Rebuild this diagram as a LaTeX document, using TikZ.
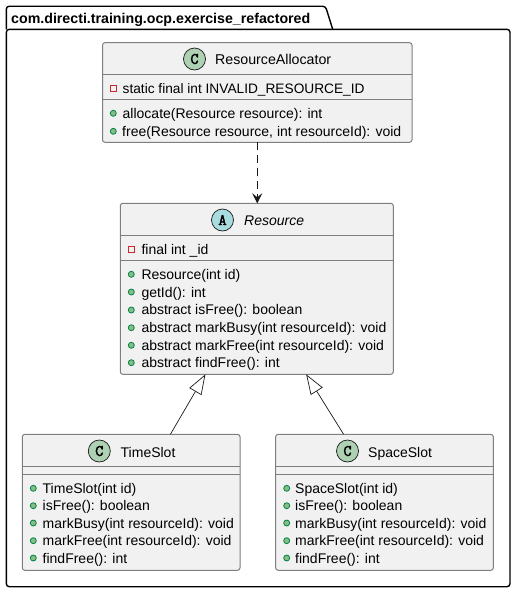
\documentclass[tikz,border=0pt]{standalone}
\usepackage{fontspec}
\setmainfont{Liberation Sans}
\newfontfamily\badgefont[FakeBold=2.5]{Latin Modern Mono}
\usepackage{xcolor}
\definecolor{umlink}{HTML}{181818}
\definecolor{umledge}{HTML}{7E7E7E}
\definecolor{umlfill}{HTML}{F1F1F1}
\definecolor{umlclass}{HTML}{ADD1B2}
\definecolor{umlabstract}{HTML}{A9DCDF}
\definecolor{umlred}{HTML}{C82930}
\definecolor{umlgreen}{HTML}{038048}
\definecolor{umlgreenfill}{HTML}{84BE84}
\usetikzlibrary{arrows.meta}
\tikzset{
  classbox/.style={draw=umledge, fill=umlfill, line width=1pt, rounded corners=2.5pt, inner sep=0pt, outer sep=0pt},
  classrule/.style={draw=umledge, line width=1pt},
  title/.style={font=\fontsize{14}{16}\selectfont, text=black, anchor=base west, inner sep=0pt},
  member/.style={font=\fontsize{14}{16}\selectfont, text=black, anchor=base west, inner sep=0pt},
  badge/.style={circle, draw=umlink, line width=0.7pt, minimum size=22pt, inner sep=0pt, text=black, font=\badgefont\fontsize{16}{16}\selectfont},
  privmark/.style={draw=umlred, line width=0.8pt, minimum size=6pt, inner sep=0pt},
  pubmark/.style={circle, draw=umlgreen, fill=umlgreenfill, line width=0.8pt, minimum size=6pt, inner sep=0pt},
  depends/.style={draw=umlink, line width=0.8pt, dash pattern=on 8pt off 5pt, -{Stealth[length=10pt, width=10pt, inset=4pt]}},
  extends/.style={draw=umlink, line width=0.7pt, -{Triangle[open, fill=none, length=20pt, width=14pt]}}
}

\begin{document}
\begin{tikzpicture}[x=1pt, y=-1pt]
  \useasboundingbox (0,0) rectangle (515,592);

  % Package frame
  \draw[black, line width=1.4pt, rounded corners=3pt] (6.3,29.3) -- (6.3,6.2) -- (325.5,6.2) -- (332.7,29.3);
  \draw[black, line width=1.4pt, rounded corners=3pt] (6.3,29.3) -- (6.3,586.7) -- (510,586.7) -- (510,29.3) -- cycle;
  \node[title, font=\fontsize{14.2}{16}\selectfont\bfseries] (pkgtitle) at (11,23) {com.directi.training.ocp.exercise\_refactored};

  % --- ResourceAllocator ---
  \node[classbox, minimum width=309.5pt, minimum height=99.6pt] (allocator) at (257.25,92.5) {};
  \draw[classrule] (102.5,74) -- (412,74);
  \draw[classrule] (102.5,99.3) -- (412,99.3);
  \node[badge, fill=umlclass] (allocatorbadge) at (194.5,59) {C};
  \node[title, font=\fontsize{14.2}{16}\selectfont] (allocatortitle) at (215,64) {ResourceAllocator};
  \node[privmark] (allocatorm1) at (113.3,88.3) {};
  \node[member, font=\fontsize{13.7}{16}\selectfont] (allocatorf1) at (122.5,93) {static final int INVALID\_RESOURCE\_ID};
  \node[pubmark] (allocatorm2) at (113.3,113.3) {};
  \node[member] (allocatorf2) at (122.5,118) {allocate(Resource resource): int};
  \node[pubmark] (allocatorm3) at (113.3,131.3) {};
  \node[member] (allocatorf3) at (122,136) {free(Resource resource, int resourceId): void};

  % --- Resource ---
  \node[classbox, minimum width=273pt, minimum height=171pt] (resource) at (256.8,288.8) {};
  \draw[classrule] (120.3,235.7) -- (393.3,235.7);
  \draw[classrule] (120.3,260.7) -- (393.3,260.7);
  \node[badge, fill=umlabstract] (resourcebadge) at (222.5,220) {A};
  \node[title, font=\fontsize{14}{16}\selectfont\itshape] (resourcetitle) at (244,225) {Resource};
  \node[privmark] (resourcem1) at (131.3,249.3) {};
  \node[member] (resourcef1) at (141.3,254) {final int \_id};
  \node[pubmark] (resourcem2) at (131.3,274.3) {};
  \node[member] (resourcef2) at (141.3,279) {Resource(int id)};
  \node[pubmark] (resourcem3) at (131.3,292) {};
  \node[member] (resourcef3) at (141.3,297) {getId(): int};
  \node[pubmark] (resourcem4) at (131.3,310) {};
  \node[member] (resourcef4) at (141.3,314) {abstract isFree(): boolean};
  \node[pubmark] (resourcem5) at (131.3,327.7) {};
  \node[member] (resourcef5) at (141.3,332) {abstract markBusy(int resourceId): void};
  \node[pubmark] (resourcem6) at (131.3,345.3) {};
  \node[member] (resourcef6) at (141.3,350) {abstract markFree(int resourceId): void};
  \node[pubmark] (resourcem7) at (131.3,362.7) {};
  \node[member] (resourcef7) at (141.3,367) {abstract findFree(): int};

  % --- TimeSlot ---
  \node[classbox, minimum width=217.7pt, minimum height=136pt] (timeslot) at (131.15,502.3) {};
  \draw[classrule] (22.3,466.7) -- (240,466.7);
  \draw[classrule] (22.3,474.3) -- (240,474.3);
  \node[badge, fill=umlclass] (timeslotbadge) at (99.3,451) {C};
  \node[title] (timeslottitle) at (120.5,457) {TimeSlot};
  \node[pubmark] (timeslotm1) at (33.3,488.3) {};
  \node[member] (timeslotf1) at (42.5,493) {TimeSlot(int id)};
  \node[pubmark] (timeslotm2) at (33.3,505.7) {};
  \node[member] (timeslotf2) at (42.5,510) {isFree(): boolean};
  \node[pubmark] (timeslotm3) at (33.3,523) {};
  \node[member] (timeslotf3) at (42.5,528) {markBusy(int resourceId): void};
  \node[pubmark] (timeslotm4) at (33.3,540.7) {};
  \node[member] (timeslotf4) at (42.5,545) {markFree(int resourceId): void};
  \node[pubmark] (timeslotm5) at (33.3,558) {};
  \node[member] (timeslotf5) at (42.5,563) {findFree(): int};

  % --- SpaceSlot ---
  \node[classbox, minimum width=217.6pt, minimum height=136pt] (spaceslot) at (384.5,502.3) {};
  \draw[classrule] (275.7,466.7) -- (493.3,466.7);
  \draw[classrule] (275.7,474.3) -- (493.3,474.3);
  \node[badge, fill=umlclass] (spaceslotbadge) at (347.5,451) {C};
  \node[title] (spaceslottitle) at (368,457) {SpaceSlot};
  \node[pubmark] (spaceslotm1) at (286.7,488.3) {};
  \node[member] (spaceslotf1) at (295,493) {SpaceSlot(int id)};
  \node[pubmark] (spaceslotm2) at (286.7,505.7) {};
  \node[member] (spaceslotf2) at (295,510) {isFree(): boolean};
  \node[pubmark] (spaceslotm3) at (286.7,523) {};
  \node[member] (spaceslotf3) at (295,528) {markBusy(int resourceId): void};
  \node[pubmark] (spaceslotm4) at (286.7,540.7) {};
  \node[member] (spaceslotf4) at (295,545) {markFree(int resourceId): void};
  \node[pubmark] (spaceslotm5) at (286.7,558) {};
  \node[member] (spaceslotf5) at (295,563) {findFree(): int};

  % Relations
  \draw[depends] (allocator.south) -- (resource.north -| allocator.south);
  \draw[extends] (timeslot.60.3) -- (resource.239.5);
  \draw[extends] (spaceslot.121) -- (resource.300.5);
\end{tikzpicture}
\end{document}
